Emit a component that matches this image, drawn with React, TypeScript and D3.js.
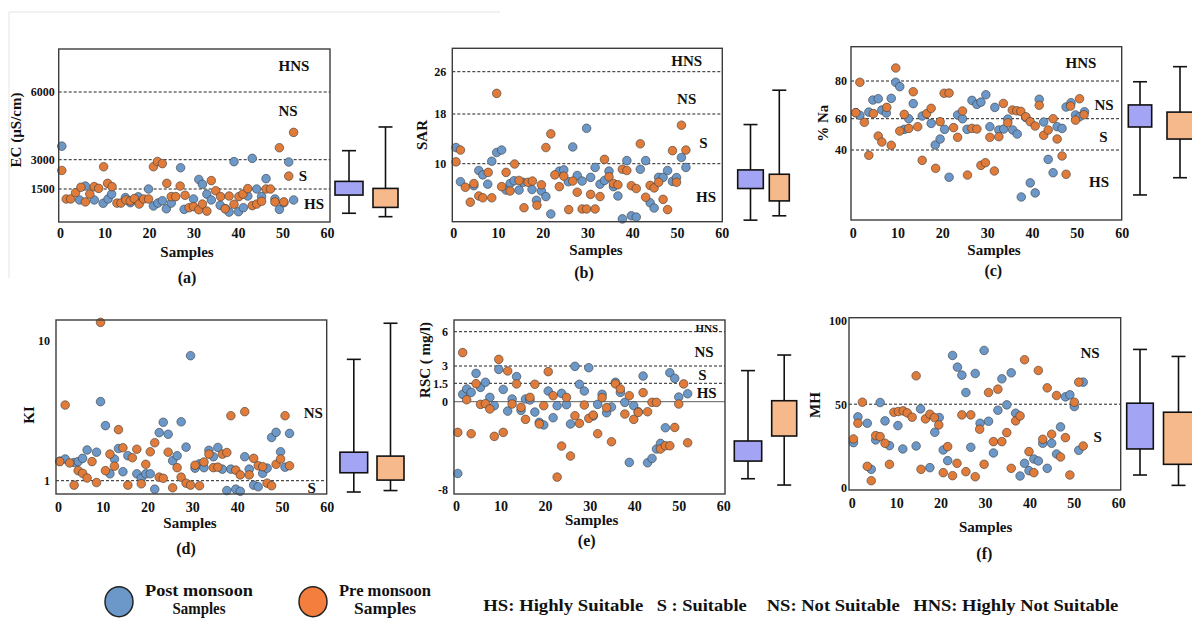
import { useRef, useEffect } from 'react'
import * as d3 from 'd3'

type Pt = [number, number]

// [sample, value]
const ecPost: Pt[] = [[0.4,3600],[4.4,940],[5.7,1650],[7.7,940],[9.7,770],[10.8,990],[11.6,1240],[14.7,1060],[15.8,800],[17.6,1100],[19.9,1500],[21,630],[22,780],[23,900],[23.9,490],[25,780],[27.1,2590],[27.9,460],[30,990],[31.2,1990],[32,1740],[33,1240],[34,940],[36,670],[37.2,490],[38,320],[39.1,2900],[40.1,340],[41.2,545],[42.2,1140],[43.2,3060],[44.2,1500],[45.3,1110],[46.3,2030],[48.3,990],[49.3,460],[50.3,800],[51.4,2880],[52.5,940]]
const ecPre: Pt[] = [[0.4,2450],[1.4,990],[2.4,990],[3.5,1310],[4.7,1590],[5.7,840],[6.7,1240],[7.7,1620],[8.7,1530],[9.8,2640],[10.7,1790],[11.7,1620],[12.8,780],[13.7,780],[14.8,940],[15.8,890],[16.7,1010],[17.8,730],[18.8,990],[19.9,990],[21,2640],[21.9,2910],[23,2800],[24,1790],[25,1110],[26,1110],[27,1650],[28.1,1180],[29,545],[30,600],[31.2,440],[32,730],[33,370],[34,1930],[35,1410],[36.1,1110],[37.1,490],[38,1140],[39.1,720],[40.2,1110],[41.1,1240],[42.2,1520],[43.2,650],[44.2,730],[45.3,870],[46.3,1500],[47.3,1500],[48.3,840],[49.3,3530],[50.3,840],[51.4,2160],[52.5,4210]]

const sarPost: Pt[] = [[0.6,12.6],[1.6,7.1],[4.6,6.45],[5.7,8.9],[6.6,8.2],[7.7,6.7],[8.6,10.4],[9.7,11.8],[10.8,12.2],[11.8,5.75],[12.7,6.8],[13.6,7.25],[14.7,5.75],[15.6,7.0],[17.6,5.85],[18.6,4.1],[19.7,5.6],[20.7,4.7],[21.8,1.9],[23.7,8.8],[24.7,9.0],[25.7,7.1],[26.7,12.7],[27.7,8.1],[28.8,7.2],[29.8,15.7],[30.7,7.8],[31.7,9.4],[32.8,6.7],[33.8,7.3],[34.8,8.8],[35.8,6.3],[36.8,4.8],[37.8,1.1],[38.8,10.5],[39.8,1.6],[40.9,1.4],[41.8,9.1],[43,10.5],[44,3.7],[44.9,2.85],[45.9,7.8],[46.9,7.8],[47.9,8.9],[49,7.15],[49.9,7.75],[51,11.0],[52,9.4]]
const sarPre: Pt[] = [[0.6,10.3],[1.6,12.2],[2.7,6.2],[3.8,3.8],[4.6,6.8],[5.7,4.8],[6.6,4.5],[7.8,8.6],[8.6,4.5],[9.7,21.9],[10.8,6.3],[11.8,8.6],[12.7,5.6],[13.7,9.95],[14.7,7.3],[15.8,2.9],[16.7,7.0],[17.7,7.2],[18.7,3.3],[19.7,6.6],[20.7,12.6],[21.8,14.8],[22.7,8.2],[23.7,6.3],[24.7,8.0],[25.8,2.6],[26.7,7.2],[27.7,5.4],[28.8,2.7],[29.8,2.7],[30.7,5.05],[31.7,2.7],[32.8,4.7],[33.8,10.7],[34.8,7.9],[35.8,6.8],[36.8,6.6],[37.8,9.1],[38.8,8.9],[39.8,6.45],[40.9,6.0],[41.8,13.2],[43,4.6],[44,6.5],[44.9,6.1],[45.9,7.0],[46.9,4.25],[47.9,2.6],[49,12.1],[49.9,7.0],[51,16.2],[52,12.2]]

const naPost: Pt[] = [[0.7,63.2],[1.6,61.8],[3.6,63.5],[4.5,69.9],[5.7,70.6],[6.5,64.6],[7.5,63],[8.6,70.8],[9.6,79.3],[10.5,77],[11.5,53.2],[12.5,60],[13.5,68],[15.5,61.4],[17.5,57],[18.4,43.2],[19.5,47],[20.5,53.2],[21.5,22.6],[23.4,62],[24.5,60],[25.5,53.2],[26.6,69.7],[27.7,67.6],[28.6,68.8],[29.7,72.7],[30.6,54.9],[31.7,66],[32.6,52.8],[33.7,53.4],[34.6,59.8],[35.7,52.8],[36.7,50.2],[37.6,10],[38.6,60.7],[39.6,19],[40.7,12.6],[41.6,70.3],[42.6,57.9],[43.6,34],[44.7,25.5],[45.6,54.9],[46.7,53.8],[47.6,66.2],[48.7,68.5],[49.7,62],[50.6,61],[51.7,63.7]]
const naPre: Pt[] = [[0.7,63.2],[1.6,79.3],[2.6,57.7],[3.6,36.6],[4.6,62.7],[5.7,48.9],[6.5,45.1],[7.6,66],[8.6,43],[9.6,86.9],[10.5,52.1],[11.5,62.3],[12.5,53.8],[13.5,74.3],[14.5,54.9],[15.5,33.4],[16.5,62.7],[17.5,65.5],[18.5,28.3],[19.5,58.1],[20.4,73.5],[21.5,73.6],[22.5,54.3],[23.4,48.1],[24.5,64.1],[25.6,24],[26.6,53.8],[27.7,53.4],[28.6,30.2],[29.6,31.9],[30.6,48.1],[31.6,26.6],[32.6,48.5],[33.6,68.1],[34.6,57.4],[35.6,64.6],[36.6,64.2],[37.5,63.9],[38.6,61],[39.6,58.1],[40.7,55.3],[41.6,67.1],[42.6,49.4],[43.6,52.8],[44.7,60],[45.6,47],[46.7,36.2],[47.6,24.5],[48.6,66.7],[49.7,59.1],[50.6,70.6],[51.6,62.1]]

const kiPost: Pt[] = [[0.4,1.38],[1.6,1.43],[3.6,1.35],[4.5,1.37],[5.5,1.445],[6.5,1.66],[8.6,1.6],[9.5,3.68],[10.6,2.48],[11.6,1.12],[12.6,1.43],[13.5,1.7],[14.5,1.16],[15.6,1.51],[17.6,1.12],[18.6,1.04],[19.6,1.12],[20.6,1.12],[21.6,0.87],[22.6,2.21],[23.5,2.62],[24.6,2.15],[25.6,1.39],[26.6,1.51],[27.5,2.64],[28.6,1.74],[29.6,7.85],[30.6,1.23],[31.6,1.32],[32.6,1.24],[33.7,1.65],[34.7,1.485],[35.7,1.73],[36.7,1.21],[37.7,0.85],[38.6,1.21],[39.7,0.87],[40.7,0.84],[41.7,1.485],[42.7,1.21],[43.7,0.93],[44.7,0.905],[45.7,1.13],[46.7,1.23],[47.7,2.04],[48.7,2.22],[49.7,1.61],[50.7,1.25],[51.7,2.18]]
const kiPre: Pt[] = [[0.4,1.37],[1.6,3.48],[2.6,1.34],[3.6,0.93],[4.5,1.18],[5.5,1.13],[6.5,1.045],[7.6,1.37],[8.6,0.97],[9.5,13.6],[10.6,1.18],[11.6,1.55],[12.6,1.27],[13.5,2.32],[14.5,1.72],[15.6,0.93],[16.6,1.46],[17.6,1.68],[18.6,0.95],[19.6,1.31],[20.6,1.61],[21.6,1.87],[22.6,1.06],[23.5,1.04],[24.6,1.6],[25.6,0.89],[26.6,1.24],[27.5,1.06],[28.6,0.96],[29.6,0.93],[30.6,1.29],[31.6,0.92],[32.6,1.36],[33.7,1.55],[34.7,1.24],[35.7,1.25],[36.7,1.55],[37.7,1.59],[38.6,2.92],[39.7,1.19],[40.7,1.1],[41.7,3.12],[42.7,1.1],[43.7,1.445],[44.7,1.28],[45.7,1.26],[46.7,0.96],[47.7,0.92],[48.7,1.31],[49.7,1.43],[50.7,2.92],[51.7,1.28]]

const rscPost: Pt[] = [[0.4,-6.5],[1.5,0.6],[2.4,1.04],[3.4,0.76],[4.5,2.36],[5.5,1.17],[6.6,1.59],[7.6,0.35],[8.6,-0.36],[9.6,2.71],[10.6,1.0],[11.6,-0.85],[12.6,0.22],[13.6,2.08],[14.6,-0.79],[15.6,0.22],[16.6,0.14],[17.7,-0.94],[18.7,-1.87],[19.7,-2.11],[20.7,0.87],[21.8,-1.45],[22.7,-0.36],[23.7,0.68],[24.8,-0.27],[25.7,-2.02],[26.7,2.97],[27.7,1.42],[28.8,0.87],[29.8,2.85],[30.8,-1.3],[31.8,-0.24],[32.8,0.6],[33.8,-1.0],[34.9,-0.48],[35.8,1.59],[36.9,0.76],[37.9,-0.06],[38.9,-5.5],[39.9,-0.36],[40.9,-0.91],[42,2.13],[43,-5.53],[44,-5.14],[45,-4.29],[45.9,-3.78],[47,-2.36],[48,2.42],[49.1,1.93],[50,0.38],[52,0.65]]
const rscPre: Pt[] = [[0.4,-2.78],[1.5,4.17],[2.4,0.16],[3.4,-2.9],[4.5,1.47],[5.5,-0.24],[6.6,-0.18],[7.6,-0.66],[8.6,-3.14],[9.6,3.58],[10.6,-2.78],[11.6,2.57],[12.6,-0.21],[13.6,1.45],[14.6,-0.51],[15.6,-1.6],[16.6,0.35],[17.7,1.42],[18.7,-2.02],[19.7,-0.36],[20.7,2.51],[21.8,0.49],[22.7,-6.83],[23.7,-4.02],[24.8,0.35],[25.7,-4.92],[26.7,-1.27],[27.7,-1.96],[28.8,-0.3],[29.8,-1.51],[30.8,-1.21],[31.8,-2.9],[32.8,0.33],[33.8,-0.54],[34.9,-3.63],[35.8,1.45],[36.9,1.04],[37.9,-1.12],[38.9,0.49],[39.9,-1.6],[40.9,-0.97],[42,0.74],[43,-0.91],[44,-0.06],[45,-0.06],[45.9,-4.29],[47,-3.99],[48,-3.99],[49.1,-2.33],[50,-0.21],[51.1,1.45],[52,-3.72]]

const mhPost: Pt[] = [[0.4,27],[1.4,42.4],[3.5,38.6],[4.4,11],[5.4,28.6],[6.4,51],[7.5,40],[8.5,25.2],[10.4,37.2],[11.5,23.2],[14.5,25],[15.5,47.2],[17.6,12],[18.7,33.2],[19.7,42],[20.6,22.6],[21.6,16.2],[22.7,79.2],[23.8,72.2],[24.8,67.4],[25.7,57],[26.8,24.2],[27.8,68.4],[28.9,38.6],[29.8,82.2],[30.8,39.8],[31.9,20.8],[32.9,46.4],[33.8,65.2],[34.9,49.6],[35.9,68.8],[36.9,44.6],[37.9,7],[38.9,14.6],[39.9,10.2],[41,17.2],[42,16],[43,26.6],[44,11.6],[45,26.6],[46.1,20.2],[47,36.4],[48.1,54.4],[49.1,55.6],[50.1,48.6],[51.1,22.4],[52.1,63.2]]
const mhPre: Pt[] = [[0.4,29.2],[1.4,38.6],[2.4,51.2],[3.5,12.8],[4.4,4.2],[5.4,31.2],[6.4,30.6],[7.5,26.6],[8.5,14],[9.5,45.2],[10.5,45.6],[11.6,46],[12.5,44.8],[13.6,42.2],[14.5,67],[15.6,11],[16.6,41.2],[17.6,44],[18.6,42],[19.6,37.6],[20.6,9],[21.6,24.6],[22.7,7.2],[23.7,14.6],[24.8,43.6],[25.7,9.6],[26.8,43.6],[27.8,6.6],[28.8,35],[29.8,14],[30.8,57],[31.9,27.6],[32.9,59],[33.8,27.6],[34.9,33],[35.9,11.6],[36.9,40],[37.9,43],[38.9,76.6],[39.9,21.6],[41,9],[42,70.2],[43,29],[44,59.8],[45,32],[46.1,55.2],[47,18.4],[48.1,30],[49.1,7.6],[50.1,51.2],[51.1,63.2],[52.1,25]]

// box plots: [lower whisker, Q1, Q3, upper whisker]
const ecBoxPost = [260, 1190, 1890, 3400]
const ecBoxPre = [85, 560, 1530, 4450]
const sarBoxPost = [0.9, 6.0, 9.0, 16.3]
const sarBoxPre = [1.6, 4.0, 8.3, 22.5]
const naBoxPost = [11.3, 54.7, 67.3, 79.6]
const naBoxPre = [22.3, 47, 63.5, 87.6]
const kiBoxPost = [0.83, 1.14, 1.6, 7.39]
const kiBoxPre = [0.85, 1.01, 1.5, 13.4]
const rscBoxPost = [-6.98, -5.38, -3.56, 2.6]
const rscBoxPre = [-7.55, -3.11, 0.08, 3.96]
const mhBoxPost = [7.6, 23.2, 50.6, 82.8]
const mhBoxPre = [1.4, 14, 45.2, 78.6]

// ticks and class limits
const xTicks = [0, 10, 20, 30, 40, 50, 60]
const ecTicks = [1500, 3000, 6000]
const sarTicks = [10, 18, 26]
const naTicks = [40, 60, 80]
const kiTicks = [1, 10]
const rscTicks = [-8, 0, 1.5, 3, 6]
const mhTicks = [0, 50, 100]
const ecLimits = [1500, 3000, 6000]
const sarLimits = [10, 18, 26]
const naLimits = [40, 60, 80]
const kiLimits = [1]
const rscLimits = [1.5, 3, 6]
const mhLimits = [50]

const seriesNames = ['Post monsoon', 'Pre monsoon']
const classKey = ['HS: Highly Suitable', 'S : Suitable', 'NS: Not Suitable', 'HNS: Highly Not Suitable']

const FONT = "'Liberation Serif', 'Times New Roman', serif"
const BLUE = '#6b98c9'
const ORANGE = '#e07b3a'
const BOX_BLUE = '#a4a4f4'
const BOX_ORANGE = '#f6b98b'

const panels = [
  {
    tag: '(a)', ylab: 'EC (µS/cm)', post: ecPost, pre: ecPre, bPost: ecBoxPost, bPre: ecBoxPre,
    ticks: ecTicks, limits: ecLimits, zero: false,
    frame: [58.7, 49, 330, 222], xr: [60, 327],
    y: d3.scaleLinear().domain([-187, 1500, 3000, 6000, 7905]).range([222, 189, 159.7, 92, 49]),
    yPad: 4, xPad: 6,
    boxX: [349, 385.5], boxW: [28, 25],
    zones: [['HNS', 294, 66], ['NS', 288, 111], ['S', 303, 176], ['HS', 314, 204]],
    ylabPos: [16, 130], sampPos: [187, 252], tagPos: [187, 277],
  },
  {
    tag: '(b)', ylab: 'SAR', post: sarPost, pre: sarPre, bPost: sarBoxPost, bPre: sarBoxPre,
    ticks: sarTicks, limits: sarLimits, zero: false,
    frame: [452.3, 48.3, 722.3, 221.7], xr: [453.3, 721.7],
    y: d3.scaleLinear().domain([0.65, 10, 18, 26, 30.4]).range([221.7, 163.7, 114, 71.7, 48.3]),
    yPad: 6, xPad: 6.5,
    boxX: [750.5, 779.3], boxW: [25.6, 20],
    zones: [['HNS', 686.7, 61], ['NS', 686.7, 99.3], ['S', 703.3, 143.3], ['HS', 706, 197.3]],
    ylabPos: [421.7, 135], sampPos: [596, 250], tagPos: [584, 272.7],
  },
  {
    tag: '(c)', ylab: '% Na', post: naPost, pre: naPre, bPost: naBoxPost, bPre: naBoxPre,
    ticks: naTicks, limits: naLimits, zero: false,
    frame: [851, 46.7, 1121.7, 220], xr: [852.7, 1121.7],
    y: d3.scaleLinear().domain([-4.7, 40, 60, 80, 98.2]).range([220, 150, 118.7, 81, 46.7]),
    yPad: 4, xPad: 8,
    boxX: [1140, 1180], boxW: [23.4, 26],
    zones: [['HNS', 1081, 63.3], ['NS', 1104, 105], ['S', 1103.3, 136.7], ['HS', 1099, 182.3]],
    ylabPos: [823.3, 123.3], sampPos: [994, 250], tagPos: [993.3, 270.7],
  },
  {
    tag: '(d)', ylab: 'KI', post: kiPost, pre: kiPre, bPost: kiBoxPost, bPre: kiBoxPre,
    ticks: kiTicks, limits: kiLimits, zero: false,
    frame: [56, 320, 326.7, 494], xr: [58, 326.7],
    y: d3.scaleLog().domain([1, 10]).range([480.7, 341]),
    yPad: 6, xPad: 8.5,
    boxX: [353.8, 390.5], boxW: [27.7, 27],
    zones: [['NS', 313.3, 413.3], ['S', 311.7, 488.3]],
    ylabPos: [29.3, 415], sampPos: [190, 523.3], tagPos: [186, 548],
  },
  {
    tag: '(e)', ylab: 'RSC ( mg/l)', post: rscPost, pre: rscPre, bPost: rscBoxPost, bPre: rscBoxPre,
    ticks: rscTicks, limits: rscLimits, zero: true,
    frame: [454, 320, 725, 494], xr: [456, 723.3],
    y: d3.scaleLinear().domain([-8, 0, 1.5, 3, 6]).range([490, 401.7, 383.3, 366, 331.7]),
    yPad: 6, xPad: 7,
    boxX: [748, 784.2], boxW: [27.4, 25],
    zones: [['HNS', 706.7, 327.5, 11], ['NS', 704, 351.7], ['S', 702.3, 375], ['HS', 706.7, 393.3]],
    ylabPos: [425, 360], sampPos: [591.7, 520], tagPos: [586.7, 540],
  },
  {
    tag: '(f)', ylab: 'MH', post: mhPost, pre: mhPre, bPost: mhBoxPost, bPre: mhBoxPre,
    ticks: mhTicks, limits: mhLimits, zero: false,
    frame: [849, 317.7, 1120.7, 490], xr: [851.7, 1118.3],
    y: d3.scaleLinear().domain([0, 100]).range([487.7, 320.7]),
    yPad: 2, xPad: 8,
    boxX: [1140, 1178.5], boxW: [26.6, 30],
    zones: [['NS', 1090, 353.3], ['S', 1097.7, 436.7]],
    ylabPos: [815, 405], sampPos: [985.7, 526.7], tagPos: [984.3, 553.3],
  },
]

function drawPanel(svg: any, p: any) {
  const g = svg.append('g')
  const x = d3.scaleLinear().domain([0, 60]).range(p.xr)
  const y = p.y
  const [fx0, fy0, fx1, fy1] = p.frame

  // class limits
  p.limits.forEach((v: number) => {
    g.append('line').attr('x1', fx0).attr('x2', fx1).attr('y1', y(v)).attr('y2', y(v))
      .attr('stroke', '#222').attr('stroke-width', 1).attr('stroke-dasharray', '3,2')
  })
  if (p.zero) {
    g.append('line').attr('x1', fx0).attr('x2', fx1).attr('y1', y(0)).attr('y2', y(0))
      .attr('stroke', '#333').attr('stroke-width', 0.8)
  }

  // points
  const series: [Pt[], string][] = [[p.post, BLUE], [p.pre, ORANGE]]
  series.forEach(([pts, col]) => {
    g.append('g').selectAll('circle').data(pts).enter().append('circle')
      .attr('cx', (d: Pt) => x(d[0]))
      .attr('cy', (d: Pt) => y(d[1]))
      .attr('r', 4.3)
      .attr('fill', col)
      .attr('stroke', '#3a3a3a')
      .attr('stroke-width', 0.6)
  })

  // frame
  g.append('rect').attr('x', fx0).attr('y', fy0).attr('width', fx1 - fx0).attr('height', fy1 - fy0)
    .attr('fill', 'none').attr('stroke', '#3c3c3c').attr('stroke-width', 1.4)

  // axes
  const xa = g.append('g').attr('transform', `translate(0,${fy1})`)
    .call(d3.axisBottom(x).tickValues(xTicks).tickSize(0).tickPadding(p.xPad))
  xa.select('.domain').remove()
  xa.selectAll('text').attr('font-family', FONT).attr('font-weight', 'bold')
    .attr('font-size', 14).attr('fill', '#111')

  const ya = g.append('g').attr('transform', `translate(${fx0},0)`)
    .call(d3.axisLeft(y).tickValues(p.ticks).tickSize(0).tickPadding(p.yPad).tickFormat((d: any) => String(d)))
  ya.select('.domain').remove()
  ya.selectAll('text').attr('font-family', FONT).attr('font-weight', 'bold')
    .attr('font-size', 12).attr('fill', '#111')

  // zone labels
  p.zones.forEach((z: any) => {
    g.append('text').attr('x', z[1]).attr('y', z[2]).text(z[0])
      .attr('text-anchor', 'middle').attr('dominant-baseline', 'central')
      .attr('font-family', FONT).attr('font-weight', 'bold')
      .attr('font-size', z[3] || 15).attr('fill', '#111')
  })

  // box plots
  const boxes: [number[], string][] = [[p.bPost, BOX_BLUE], [p.bPre, BOX_ORANGE]]
  boxes.forEach(([b, col], i) => {
    const cx = p.boxX[i]
    const w = p.boxW[i]
    const bg = g.append('g').attr('stroke', '#111').attr('stroke-width', 1.6)
    bg.append('line').attr('x1', cx).attr('x2', cx).attr('y1', y(b[0])).attr('y2', y(b[3]))
    bg.append('line').attr('x1', cx - 7).attr('x2', cx + 7).attr('y1', y(b[0])).attr('y2', y(b[0]))
    bg.append('line').attr('x1', cx - 7).attr('x2', cx + 7).attr('y1', y(b[3])).attr('y2', y(b[3]))
    bg.append('rect').attr('x', cx - w / 2).attr('width', w)
      .attr('y', y(b[2])).attr('height', y(b[1]) - y(b[2]))
      .attr('fill', col)
  })

  // titles
  g.append('text')
    .attr('transform', `translate(${p.ylabPos[0]},${p.ylabPos[1]}) rotate(-90)`)
    .attr('text-anchor', 'middle').attr('dominant-baseline', 'central')
    .attr('font-family', FONT).attr('font-weight', 'bold').attr('font-size', 15).attr('fill', '#111')
    .text(p.ylab)
  g.append('text').attr('x', p.sampPos[0]).attr('y', p.sampPos[1])
    .attr('text-anchor', 'middle').attr('dominant-baseline', 'central')
    .attr('font-family', FONT).attr('font-weight', 'bold').attr('font-size', 15).attr('fill', '#111')
    .text('Samples')
  g.append('text').attr('x', p.tagPos[0]).attr('y', p.tagPos[1])
    .attr('text-anchor', 'middle').attr('dominant-baseline', 'central')
    .attr('font-family', FONT).attr('font-weight', 'bold').attr('font-size', 16).attr('fill', '#111')
    .text(p.tag)
}

function App() {
  const ref = useRef<SVGSVGElement>(null)

  useEffect(() => {
    const svg = d3.select(ref.current)
    svg.selectAll('*').remove()

    svg.append('rect').attr('width', 1192).attr('height', 619).attr('fill', '#fff')
    // faint scan border top-left
    svg.append('path').attr('d', 'M9,278 V12 H500').attr('fill', 'none')
      .attr('stroke', '#e4e4e4').attr('stroke-width', 1)

    panels.forEach(p => drawPanel(svg, p))

    // legend
    const lg = svg.append('g').attr('font-family', FONT).attr('font-weight', 'bold').attr('fill', '#111')
    const legendCols = [BLUE, '#f47e3e']
    const legendX = [119, 313]
    const legendText = [199, 385]
    seriesNames.forEach((name, i) => {
      lg.append('ellipse').attr('cx', legendX[i]).attr('cy', 601.7).attr('rx', 14).attr('ry', 15)
        .attr('fill', legendCols[i]).attr('stroke', '#222').attr('stroke-width', 1.5)
      lg.append('text').attr('x', legendText[i]).attr('y', 596).attr('text-anchor', 'middle')
        .attr('font-size', 17).attr('textLength', i === 0 ? 108 : 92).attr('lengthAdjust', 'spacingAndGlyphs')
        .text(name)
      lg.append('text').attr('x', legendText[i]).attr('y', 613.5).attr('text-anchor', 'middle')
        .attr('font-size', 16).attr('textLength', i === 0 ? 53 : 62).attr('lengthAdjust', 'spacingAndGlyphs')
        .text('Samples')
    })
    const keyX = [483.3, 656.7, 766.7, 913.3]
    const keyW = [160, 90, 133, 205]
    classKey.forEach((t, i) => {
      lg.append('text').attr('x', keyX[i]).attr('y', 611).attr('font-size', 17)
        .attr('textLength', keyW[i]).attr('lengthAdjust', 'spacingAndGlyphs')
        .text(t)
    })
  }, [])

  return (
    <svg ref={ref} width={1192} height={619}
      style={{ position: 'absolute', left: 0, top: 0, display: 'block' }} />
  )
}

export default App
